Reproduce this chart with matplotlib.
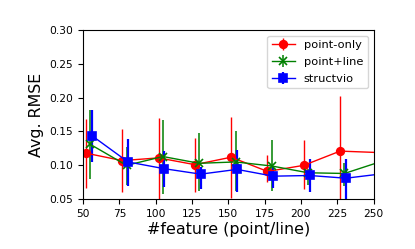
import numpy as np
import matplotlib
matplotlib.use("Agg")
import matplotlib.pyplot as plt

# number of features per frame (point/line); last point sits outside the view
features = [50, 75, 100, 125, 150, 175, 200, 225, 275]

# point-only
rmse_point = [0.118, 0.107, 0.111, 0.101, 0.112, 0.091, 0.100, 0.121, 0.117]
lo_point = [0.067, 0.061, 0.046, 0.061, 0.052, 0.075, 0.065, 0.040, 0.090]
hi_point = [0.169, 0.154, 0.170, 0.141, 0.172, 0.115, 0.137, 0.202, 0.150]

# point+line
rmse_line = [0.131, 0.100, 0.113, 0.103, 0.105, 0.099, 0.089, 0.088, 0.123]
lo_line = [0.080, 0.071, 0.057, 0.062, 0.062, 0.062, 0.071, 0.070, 0.090]
hi_line = [0.182, 0.127, 0.167, 0.148, 0.150, 0.137, 0.094, 0.104, 0.150]

# structvio
rmse_svio = [0.144, 0.105, 0.095, 0.087, 0.094, 0.084, 0.085, 0.081, 0.094]
lo_svio = [0.105, 0.069, 0.068, 0.065, 0.061, 0.067, 0.061, 0.045, 0.070]
hi_svio = [0.182, 0.139, 0.121, 0.097, 0.123, 0.098, 0.110, 0.109, 0.115]

fig = plt.figure(figsize=(4.15, 2.49), dpi=100)
ax = fig.add_axes([0.2, 0.2, 0.7, 0.68])

series = [
    ("point-only", rmse_point, lo_point, hi_point, "red", "o", 2, 5.5, 1.0),
    ("point+line", rmse_line, lo_line, hi_line, "green", "x", 5, 6, 1.1),
    ("structvio", rmse_svio, lo_svio, hi_svio, "blue", "s", 6, 5.5, 1.6),
]
for name, y, lo, hi, c, m, off, ms, elw in series:
    x = np.array(features) + off
    y = np.array(y)
    yerr = [y - np.array(lo), np.array(hi) - y]
    ax.errorbar(x, y, yerr=yerr, color=c, marker=m, ms=ms, lw=1,
                elinewidth=elw, label=name, mew=1.2)

ax.set_xlim(50, 250)
ax.set_ylim(0.05, 0.30)
ax.set_xticks(np.arange(50, 251, 25))
ax.set_yticks([0.05, 0.10, 0.15, 0.20, 0.25, 0.30])
ax.set_yticklabels(["%.2f" % v for v in ax.get_yticks()])
ax.tick_params(labelsize=7.7)
ax.set_xlabel("#feature (point/line)", fontsize=11.4, labelpad=2)
ax.set_ylabel("Avg. RMSE", fontsize=11.4)
ax.legend(loc="upper right", fontsize=8.2, labelspacing=0.6)
fig.savefig("out.png", dpi=100)
